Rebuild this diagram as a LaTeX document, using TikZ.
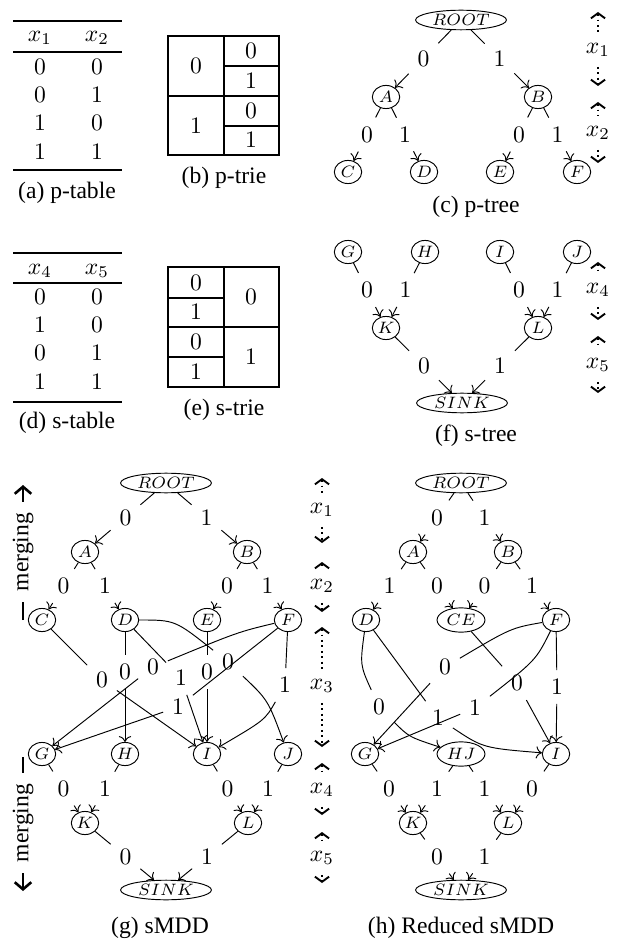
\documentclass[tikz,border=0pt]{standalone}
\usepackage{fontspec}
\newfontfamily\capfont{Liberation Serif}
\usetikzlibrary{arrows.meta,calc,shapes.geometric}
\newcommand\treeEdge[4]{%
  \node[lbl] (#4) at ($(#1)!0.5!(#2)$) {#3};
  \draw (#1) -- (#4);
  \draw[->] (#4) -- (#2);}
\newcommand\varArrow[6]{%
  \coordinate (#1t) at (#2,#3);
  \coordinate (#1b) at (#2,#4);
  \node[varlbl] (#1l) at (#2,#5) {#6};
  \draw[varline,varstart] (#1t) -- (#1l);
  \draw[varline,varend] (#1l) -- (#1b);}
\begin{document}
\begin{tikzpicture}[x=0.4237pt,y=-0.4237pt,
  nd/.style={draw,ellipse,inner sep=0pt,minimum width=11.6pt,minimum height=9.8pt,font=\scriptsize},
  wide/.style={draw,ellipse,inner sep=0pt,minimum width=38.5pt,minimum height=8.3pt,font=\scriptsize},
  midnd/.style={draw,ellipse,inner sep=0pt,minimum width=20.3pt,minimum height=10.3pt,font=\scriptsize},
  lbl/.style={inner sep=3.6pt},
  capt/.style={font=\capfont},
  varlbl/.style={inner sep=4pt},
  varline/.style={line width=0.8pt,dash pattern=on 0.8pt off 1.5pt},
  varstart/.style={{Straight Barb[length=2.2pt,width=6pt]}-},
  varend/.style={-{Straight Barb[length=2.2pt,width=6pt]}},
  mrg/.style={line width=1.1pt},
  mrgend/.style={-{Straight Barb[length=3pt,width=7pt]}},
  rulethick/.style={line width=0.6pt},
  rulethin/.style={line width=0.45pt},
  cellline/.style={line width=0.5pt}
]
\useasboundingbox (0,0) rectangle (620,944);

% ---------- (a) p-table ----------
\draw[rulethick] (13,21) -- (122,21);
\draw[rulethin] (13,52) -- (122,52);
\draw[rulethick] (13,170) -- (122,170);
\node (ah1) at (40,38) {$x_1$};
\node (ah2) at (97,38) {$x_2$};
\node (a11) at (40,67) {0}; \node (a12) at (97,67) {0};
\node (a21) at (40,95) {0}; \node (a22) at (97,95) {1};
\node (a31) at (40,123) {1}; \node (a32) at (97,123) {0};
\node (a41) at (40,152) {1}; \node (a42) at (97,152) {1};
\node[capt] (capa) at (67,193) {(a) p-table};

% ---------- (b) p-trie ----------
\draw[cellline] (168,36) rectangle (279,155);
\draw[cellline] (224,36) -- (224,155);
\draw[cellline] (168,96) -- (279,96);
\draw[cellline] (224,66) -- (279,66);
\draw[cellline] (224,126) -- (279,126);
\node (b1) at (196,66) {0};
\node (b2) at (196,126) {1};
\node (b3) at (251,51) {0};
\node (b4) at (251,81) {1};
\node (b5) at (251,111) {0};
\node (b6) at (251,140) {1};
\node[capt] (capb) at (224,178) {(b) p-trie};

% ---------- (c) p-tree ----------
\node[wide] (cR) at (461,20) {$ROOT$};
\node[nd] (cA) at (386,97) {$A$};
\node[nd] (cB) at (538,97) {$B$};
\node[nd] (cC) at (348,172) {$C$};
\node[nd] (cD) at (424,172) {$D$};
\node[nd] (cE) at (500,172) {$E$};
\node[nd] (cF) at (577,172) {$F$};
\treeEdge{cR}{cA}{0}{cRA}
\treeEdge{cR}{cB}{1}{cRB}
\treeEdge{cA}{cC}{0}{cAC}
\treeEdge{cA}{cD}{1}{cAD}
\treeEdge{cB}{cE}{0}{cBE}
\treeEdge{cB}{cF}{1}{cBF}
\varArrow{cv1}{598}{12}{86}{50}{$x_1$}
\varArrow{cv2}{598}{102}{163}{133}{$x_2$}
\node[capt] (capc) at (476,207) {(c) p-tree};

% ---------- (d) s-table ----------
\draw[rulethick] (13,253) -- (122,253);
\draw[rulethin] (13,283) -- (122,283);
\draw[rulethick] (13,402) -- (122,402);
\node (dh1) at (40,271) {$x_4$};
\node (dh2) at (97,271) {$x_5$};
\node (d11) at (40,297) {0}; \node (d12) at (97,297) {0};
\node (d21) at (40,325) {1}; \node (d22) at (97,325) {0};
\node (d31) at (40,353) {0}; \node (d32) at (97,353) {1};
\node (d41) at (40,382) {1}; \node (d42) at (97,382) {1};
\node[capt] (capd) at (67,423) {(d) s-table};

% ---------- (e) s-trie ----------
\draw[cellline] (168,267) rectangle (279,387);
\draw[cellline] (224,267) -- (224,387);
\draw[cellline] (168,327) -- (279,327);
\draw[cellline] (168,298) -- (224,298);
\draw[cellline] (168,357) -- (224,357);
\node (e1) at (196,283) {0};
\node (e2) at (196,312) {1};
\node (e3) at (196,342) {0};
\node (e4) at (196,372) {1};
\node (e5) at (251,297) {0};
\node (e6) at (251,357) {1};
\node[capt] (cape) at (224,410) {(e) s-trie};

% ---------- (f) s-tree ----------
\node[nd] (fG) at (348,252) {$G$};
\node[nd] (fH) at (425,252) {$H$};
\node[nd] (fI) at (500,252) {$I$};
\node[nd] (fJ) at (577,252) {$J$};
\node[nd] (fK) at (386,328) {$K$};
\node[nd] (fL) at (538,328) {$L$};
\node[wide] (fS) at (462,403) {$SINK$};
\treeEdge{fG}{fK}{0}{fGK}
\treeEdge{fH}{fK}{1}{fHK}
\treeEdge{fI}{fL}{0}{fIL}
\treeEdge{fJ}{fL}{1}{fJL}
\treeEdge{fK}{fS}{0}{fKS}
\treeEdge{fL}{fS}{1}{fLS}
\varArrow{fv4}{598}{262}{320}{290}{$x_4$}
\varArrow{fv5}{598}{336}{393}{365}{$x_5$}
\node[capt] (capf) at (476,436) {(f) s-tree};

% ---------- merging arrows ----------
\coordinate (mta) at (23,620);
\coordinate (mtb) at (23,485);
\node[capt,rotate=90,inner sep=4.5pt] (mtl) at (23,552) {merging};
\draw[mrg] (mta) -- (mtl);
\draw[mrg,mrgend] (mtl) -- (mtb);
\coordinate (mba) at (23,757);
\coordinate (mbb) at (23,891);
\node[capt,rotate=90,inner sep=4.5pt] (mbl) at (23,823) {merging};
\draw[mrg] (mba) -- (mbl);
\draw[mrg,mrgend] (mbl) -- (mbb);

% ---------- (g) sMDD ----------
\node[wide] (gR) at (166,483) {$ROOT$};
\node[nd] (gA) at (85,552) {$A$};
\node[nd] (gB) at (247,552) {$B$};
\node[nd] (gC) at (42,620) {$C$};
\node[nd] (gD) at (125,620) {$D$};
\node[nd] (gE) at (207,620) {$E$};
\node[nd] (gF) at (288,620) {$F$};
\node[nd] (gG) at (42,754) {$G$};
\node[nd] (gH) at (125,754) {$H$};
\node[nd] (gI) at (207,754) {$I$};
\node[nd] (gJ) at (288,754) {$J$};
\node[nd] (gK) at (85,823) {$K$};
\node[nd] (gL) at (248,823) {$L$};
\node[wide] (gS) at (166,890) {$SINK$};
\treeEdge{gR}{gA}{0}{gRA}
\treeEdge{gR}{gB}{1}{gRB}
\treeEdge{gA}{gC}{0}{gAC}
\treeEdge{gA}{gD}{1}{gAD}
\treeEdge{gB}{gE}{0}{gBE}
\treeEdge{gB}{gF}{1}{gBF}
\treeEdge{gG}{gK}{0}{gGK}
\treeEdge{gH}{gK}{1}{gHK}
\treeEdge{gI}{gL}{0}{gIL}
\treeEdge{gJ}{gL}{1}{gJL}
\treeEdge{gK}{gS}{0}{gKS}
\treeEdge{gL}{gS}{1}{gLS}
% middle edges
\node[lbl] (g1) at (102,680) {0};
\draw (gC) -- (g1); \draw[->] (g1) -- (gI);
\node[lbl] (g2) at (125,672) {0};
\draw (gD) -- (g2); \draw[->] (g2) -- (gH);
\node[lbl] (g3) at (153,667) {0};
\draw (gF) .. controls +(-50,12) .. (g3); \draw[->] (g3) -- (gG);
\node[lbl] (g4) at (181,678) {1};
\draw (gD) -- (g4); \draw[->] (g4) -- (gI);
\node[lbl] (g5) at (228,662) {0};
\draw (gD) .. controls +(50,0) .. (g5); \draw[->] (g5) .. controls +(40,38) .. (gJ);
\node[lbl] (g6) at (207,672) {0};
\draw (gE) -- (g6); \draw[->] (g6) -- (gI);
\node[lbl] (g7) at (285,685) {1};
\draw (gF) -- (g7); \draw[->] (g7) .. controls +(-20,35) .. (gI);
\node[lbl] (g8) at (178,707) {1};
\draw (gF) -- (g8); \draw[->] (g8) -- (gG);
\node[capt] (capg) at (160,928) {(g) sMDD};

% ---------- shared variable column ----------
\varArrow{mv1}{322}{478}{543}{510}{$x_1$}
\varArrow{mv2}{322}{562}{612}{586}{$x_2$}
\varArrow{mv3}{322}{627}{747}{686}{$x_3$}
\varArrow{mv4}{322}{763}{815}{790}{$x_4$}
\varArrow{mv5}{322}{832}{883}{858}{$x_5$}

% ---------- (h) Reduced sMDD ----------
\node[wide] (hR) at (461,483) {$ROOT$};
\node[nd] (hA) at (413,552) {$A$};
\node[nd] (hB) at (508,552) {$B$};
\node[nd] (hD) at (366,620) {$D$};
\node[midnd] (hCE) at (461,620) {$CE$};
\node[nd] (hF) at (556,620) {$F$};
\node[nd] (hG) at (365,754) {$G$};
\node[midnd] (hHJ) at (461,754) {$HJ$};
\node[nd] (hI) at (556,754) {$I$};
\node[nd] (hK) at (413,823) {$K$};
\node[nd] (hL) at (508,823) {$L$};
\node[wide] (hS) at (461,890) {$SINK$};
\treeEdge{hR}{hA}{0}{hRA}
\treeEdge{hR}{hB}{1}{hRB}
\treeEdge{hA}{hD}{1}{hAD}
\treeEdge{hA}{hCE}{0}{hACE}
\treeEdge{hB}{hCE}{0}{hBCE}
\treeEdge{hB}{hF}{1}{hBF}
\treeEdge{hG}{hK}{0}{hGK}
\treeEdge{hHJ}{hK}{1}{hHJK}
\treeEdge{hHJ}{hL}{1}{hHJL}
\treeEdge{hI}{hL}{0}{hIL}
\treeEdge{hK}{hS}{0}{hKS}
\treeEdge{hL}{hS}{1}{hLS}
% middle edges
\node[lbl] (h1) at (379,707) {0};
\draw (hD) .. controls +(-6,45) .. (h1); \draw[->] (h1) .. controls +(30,30) .. (hHJ);
\node[lbl] (h2) at (438,718) {1};
\draw (hD) -- (h2); \draw[->] (h2) .. controls +(45,30) .. (hI);
\node[lbl] (h3) at (517,683) {0};
\draw (hCE) -- (h3); \draw[->] (h3) -- (hI);
\node[lbl] (h4) at (445,667) {0};
\draw (hF) .. controls +(-45,8) .. (h4); \draw[->] (h4) -- (hG);
\node[lbl] (h5) at (475,708) {1};
\draw (hF) .. controls +(-20,40) .. (h5); \draw[->] (h5) -- (hG);
\node[lbl] (h6) at (557,687) {1};
\draw (hF) -- (h6); \draw[->] (h6) -- (hI);
\node[capt] (caph) at (461,928) {(h) Reduced sMDD};
\end{tikzpicture}
\end{document}
